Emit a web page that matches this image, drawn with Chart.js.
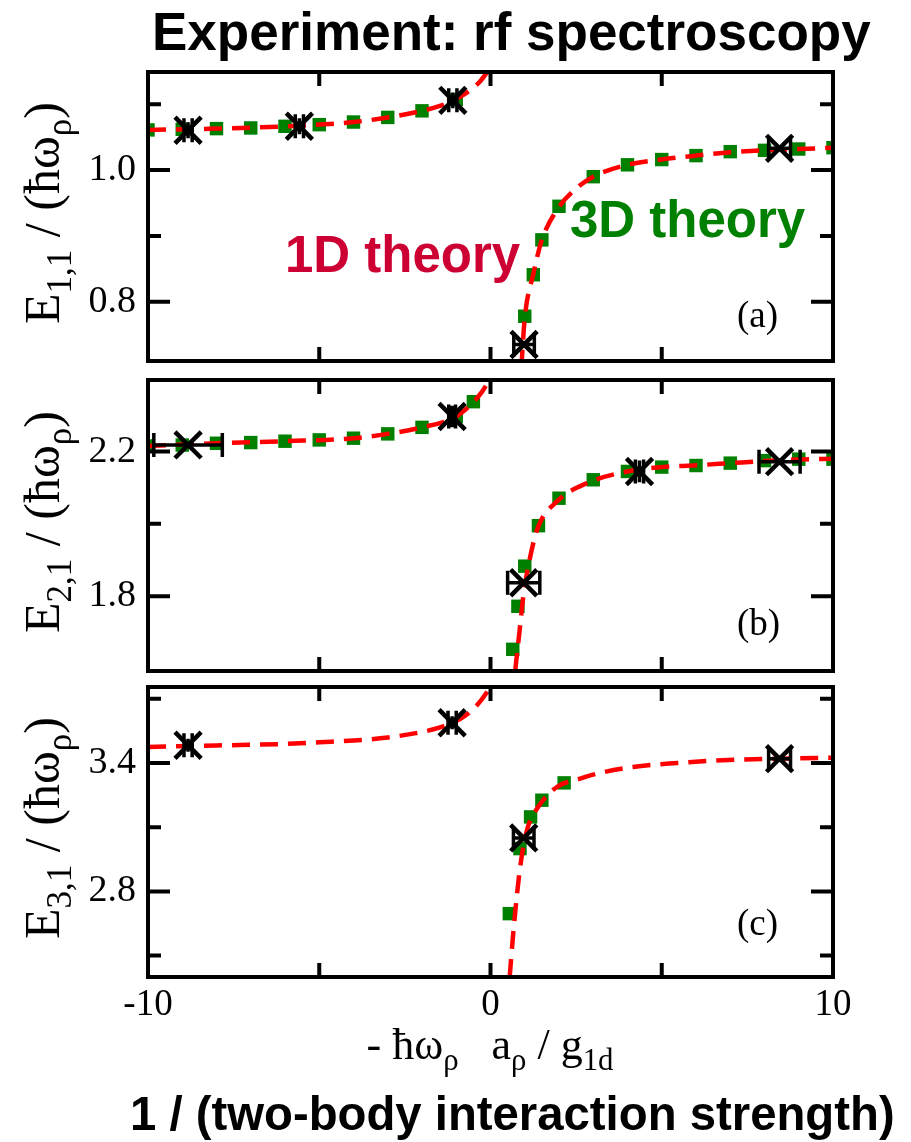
<!DOCTYPE html>
<html>
<head>
<meta charset="utf-8">
<script src="https://cdn.jsdelivr.net/npm/chart.js@4.4.1/dist/chart.umd.min.js"></script>
<style>
  body { margin: 0; background: #fff; }
  #page { position: relative; width: 911px; height: 1142px; overflow: hidden; }
  canvas { position: absolute; left: 0; top: 0; }
  .t { position: absolute; white-space: nowrap; line-height: 1; }
  .sans { font-family: "Liberation Sans", Arial, sans-serif; font-weight: bold; }
  .serif { font-family: "Liberation Serif", "Times New Roman", serif; color: #000; }
  sub { font-size: 70%; vertical-align: -0.35em; line-height: 0; }
</style>
</head>
<body>
<div id="page">
  <canvas id="chartA" width="911" height="1142"></canvas>
  <canvas id="chartB" width="911" height="1142"></canvas>
  <canvas id="chartC" width="911" height="1142"></canvas>
</div>
<script>
// shared x axis
const xTicks = [-10, -5, 0, 5, 10];
const xTickLabels = ['-10', '', '0', '', '10'];

// ---- panel (a): E_1,1
const yRangeA = [0.71, 1.149];
const yTicksA = [0.8, 0.9, 1.0, 1.1];
const yTickLabelsA = ['0.8', '', '1.0', ''];
const lineA1x = [-10, -8, -6, -4, -3, -2, -1.5, -1, -0.6, -0.3, -0.05];
const lineA1y = [1.061, 1.063, 1.0665, 1.073, 1.080, 1.090, 1.097, 1.108, 1.121, 1.135, 1.152];
const lineA2x = [0.9, 1.0, 1.25, 1.5, 2, 2.5, 3, 4, 5, 6, 7, 8, 9, 10];
const lineA2y = [0.70, 0.775, 0.842, 0.894, 0.944, 0.972, 0.99, 1.008, 1.016, 1.022, 1.027, 1.030, 1.032, 1.034];
const sqAx = [-10, -9, -8, -7, -6, -5, -4, -3, -2, -1, 1, 1.25, 1.5, 2, 3, 4, 5, 6, 7, 8, 9, 10];
const sqAy = [1.061, 1.062, 1.063, 1.064, 1.0665, 1.069, 1.073, 1.080, 1.090, 1.107,
              0.778, 0.841, 0.894, 0.945, 0.990, 1.008, 1.016, 1.022, 1.028, 1.030, 1.032, 1.034];
const expAx = [-8.83, -5.58, -1.10, 0.98, 8.44];
const expAy = [1.0605, 1.0666, 1.106, 0.735, 1.033];
const expAxErr = [0.12, 0.12, 0.12, 0.3, 0.32];
const expAyErr = [0.012, 0.012, 0.012, 0.004, 0.004];

// ---- panel (b): E_2,1
const yRangeB = [1.593, 2.398];
const yTicksB = [1.8, 2.0, 2.2];
const yTickLabelsB = ['1.8', '', '2.2'];
const lineB1x = [-10, -8, -6, -4, -3, -2, -1, -0.5, -0.25, -0.02];
const lineB1y = [2.2155, 2.223, 2.2287, 2.237, 2.249, 2.267, 2.297, 2.337, 2.365, 2.40];
const lineB2x = [0.72, 0.875, 0.97, 1.14, 1.38, 1.94, 2.82, 4, 5, 6, 7, 8, 9, 10];
const lineB2y = [1.593, 1.727, 1.809, 1.90, 1.989, 2.062, 2.113, 2.145, 2.157, 2.162, 2.168, 2.174, 2.178, 2.18];
const sqBx = [-10, -9, -8, -7, -6, -5, -4, -3, -2, -1, -0.5,
              0.65, 0.8, 1.0, 1.4, 2, 3, 4, 5, 6, 7, 8, 9, 10];
const sqBy = [2.2157, 2.218, 2.223, 2.2249, 2.2287, 2.2323, 2.237, 2.249, 2.267, 2.297, 2.338,
              1.653, 1.772, 1.883, 1.995, 2.071, 2.122, 2.145, 2.157, 2.1614, 2.168, 2.175, 2.179, 2.179];
const expBx = [-8.83, -1.12, 0.97, 4.35, 8.44];
const expBy = [2.2185, 2.297, 1.837, 2.145, 2.172];
const expBxErr = [1.0, 0.1, 0.47, 0.12, 0.6];
const expByErr = [0.004, 0.03, 0.004, 0.03, 0.004];

// ---- panel (c): E_3,1
const yRangeC = [2.40, 3.755];
const yTicksC = [2.5, 2.8, 3.1, 3.4, 3.7];
const yTickLabelsC = ['', '2.8', '', '3.4', ''];
const lineC1x = [-10, -8, -6, -5, -4, -3, -2, -1.5, -1.1, -0.87, -0.44, -0.1, 0.0];
const lineC1y = [3.475, 3.482, 3.489, 3.497, 3.505, 3.519, 3.545, 3.565, 3.59, 3.607, 3.662, 3.732, 3.76];
const lineC2x = [0.56, 0.64, 0.72, 0.83, 0.94, 1.09, 1.36, 1.94, 2.62, 3.11, 4.16, 5.45, 6.75, 8.44, 10];
const lineC2y = [2.40, 2.56, 2.70, 2.867, 2.992, 3.10, 3.187, 3.288, 3.327, 3.35, 3.381, 3.40, 3.413, 3.42, 3.425];
const sqCx = [0.55, 0.86, 1.17, 1.5, 2.15];
const sqCy = [2.696, 3.0, 3.148, 3.226, 3.307];
const expCx = [-8.83, -1.12, 0.97, 8.44];
const expCy = [3.483, 3.588, 3.05, 3.42];
const expCxErr = [0.12, 0.12, 0.3, 0.32];
const expCyErr = [0.03, 0.03, 0.007, 0.007];

const zip = (xs, ys) => xs.map((x, i) => ({ x, y: ys[i] }));

// frame + inward ticks on all four sides
const framePlugin = {
    id: 'frame',
    afterDraw(chart, args, opts) {
        const { ctx, chartArea: a, scales: { x, y } } = chart;
        ctx.save();
        ctx.strokeStyle = '#000';
        ctx.lineWidth = 4;
        ctx.beginPath();
        xTicks.forEach(v => {
            const px = x.getPixelForValue(v);
            ctx.moveTo(px, a.top); ctx.lineTo(px, a.top + 14);
            ctx.moveTo(px, a.bottom); ctx.lineTo(px, a.bottom - 14);
        });
        opts.ticks.forEach((v, i) => {
            const py = y.getPixelForValue(v);
            const len = opts.labels[i] ? 22 : 13;
            ctx.moveTo(a.left, py); ctx.lineTo(a.left + len, py);
            ctx.moveTo(a.right, py); ctx.lineTo(a.right - len, py);
        });
        ctx.stroke();
        ctx.strokeRect(a.left, a.top, a.right - a.left, a.bottom - a.top);
        ctx.restore();
    }
};

// horizontal / vertical error bars of the experimental points
const errorBarPlugin = {
    id: 'errorBars',
    afterDatasetsDraw(chart, args, opts) {
        const { ctx, scales: { x, y } } = chart;
        ctx.save();
        ctx.strokeStyle = '#000';
        ctx.lineWidth = 3.5;
        ctx.beginPath();
        opts.xs.forEach((xv, i) => {
            const px = x.getPixelForValue(xv);
            const py = y.getPixelForValue(opts.ys[i]);
            const x0 = x.getPixelForValue(xv - opts.xErr[i]);
            const x1 = x.getPixelForValue(xv + opts.xErr[i]);
            const y0 = y.getPixelForValue(opts.ys[i] - opts.yErr[i]);
            const y1 = y.getPixelForValue(opts.ys[i] + opts.yErr[i]);
            ctx.moveTo(x0, py); ctx.lineTo(x1, py);
            ctx.moveTo(x0, py - 12); ctx.lineTo(x0, py + 12);
            ctx.moveTo(x1, py - 12); ctx.lineTo(x1, py + 12);
            ctx.moveTo(px, y0); ctx.lineTo(px, y1);
        });
        ctx.stroke();
        ctx.restore();
    }
};

function makePanel(id, p) {
    const lineStyle = {
        type: 'line', borderColor: '#ff0000', borderWidth: 4.5, borderDash: [18, 10],
        pointRadius: 0, cubicInterpolationMode: 'monotone', fill: false, order: 2, clip: 0
    };
    new Chart(document.getElementById(id), {
        type: 'scatter',
        data: {
            datasets: [
                { label: '3D theory', data: zip(p.sqX, p.sqY), pointStyle: 'rect', pointRadius: 9.5,
                  backgroundColor: '#008000', borderWidth: 0, order: 3, clip: 0 },
                { ...lineStyle, label: '1D theory', data: zip(p.l1x, p.l1y) },
                { ...lineStyle, label: '1D theory b', data: zip(p.l2x, p.l2y) },
                { label: 'experiment', data: zip(p.ex, p.ey), pointStyle: 'crossRot', pointRadius: 18.5,
                  borderColor: '#000', borderWidth: 4.5, order: 1 }
            ]
        },
        options: {
            responsive: false,
            animation: false,
            events: [],
            layout: { padding: { left: 0, right: 78, top: p.top, bottom: p.bottom } },
            plugins: {
                legend: { display: false },
                tooltip: { enabled: false },
                frame: { ticks: p.yTicks, labels: p.yLabels },
                errorBars: { xs: p.ex, ys: p.ey, xErr: p.exErr, yErr: p.eyErr }
            },
            scales: {
                x: {
                    type: 'linear', min: -10, max: 10,
                    display: p.showX,
                    grid: { display: false, drawTicks: false },
                    border: { display: false },
                    afterBuildTicks: s => { s.ticks = xTicks.map(v => ({ value: v })); },
                    afterFit: s => { s.height = p.showX ? 60 : 0; s.paddingLeft = 0; s.paddingRight = 0; },
                    ticks: {
                        autoSkip: false, maxRotation: 0, padding: 6, color: '#000',
                        font: { family: 'Liberation Serif', size: 37 },
                        callback: (v, i) => xTickLabels[i]
                    }
                },
                y: {
                    type: 'linear', min: p.yRange[0], max: p.yRange[1],
                    grid: { display: false, drawTicks: false },
                    border: { display: false },
                    afterBuildTicks: s => { s.ticks = p.yTicks.map(v => ({ value: v })); },
                    afterFit: s => { s.width = 148; s.paddingTop = 0; s.paddingBottom = 0; },
                    ticks: {
                        autoSkip: false, padding: 12, color: '#000',
                        font: { family: 'Liberation Serif', size: 38 },
                        callback: (v, i) => p.yLabels[i]
                    }
                }
            }
        },
        plugins: [framePlugin, errorBarPlugin]
    });
}

makePanel('chartA', {
    top: 72, bottom: 1142 - 361, showX: false, yRange: yRangeA, yTicks: yTicksA, yLabels: yTickLabelsA,
    l1x: lineA1x, l1y: lineA1y, l2x: lineA2x, l2y: lineA2y, sqX: sqAx, sqY: sqAy,
    ex: expAx, ey: expAy, exErr: expAxErr, eyErr: expAyErr
});
makePanel('chartB', {
    top: 380, bottom: 1142 - 671, showX: false, yRange: yRangeB, yTicks: yTicksB, yLabels: yTickLabelsB,
    l1x: lineB1x, l1y: lineB1y, l2x: lineB2x, l2y: lineB2y, sqX: sqBx, sqY: sqBy,
    ex: expBx, ey: expBy, exErr: expBxErr, eyErr: expByErr
});
makePanel('chartC', {
    top: 687, bottom: 1142 - 977 - 60, showX: true, yRange: yRangeC, yTicks: yTicksC, yLabels: yTickLabelsC,
    l1x: lineC1x, l1y: lineC1y, l2x: lineC2x, l2y: lineC2y, sqX: sqCx, sqY: sqCy,
    ex: expCx, ey: expCy, exErr: expCxErr, eyErr: expCyErr
});

// ---- text overlays (positioned by baseline)
const page = document.getElementById('page');
function put(html, cls, size, x, base, opts = {}) {
    const el = document.createElement('div');
    el.className = 't ' + cls;
    el.innerHTML = html;
    el.style.fontSize = size + 'px';
    const k = cls === 'sans' ? 0.8465 : 0.8375;
    el.style.left = x + 'px';
    el.style.top = (base - k * size) + 'px';
    if (opts.color) el.style.color = opts.color;
    if (opts.center) el.style.transform = 'translateX(-50%)';
    page.appendChild(el);
    return el;
}
function putRot(html, size, cx, cy) {
    const el = document.createElement('div');
    el.className = 't serif';
    el.innerHTML = html;
    el.style.fontSize = size + 'px';
    el.style.left = cx + 'px';
    el.style.top = cy + 'px';
    el.style.transform = 'translate(-50%, -50%) rotate(-90deg)';
    page.appendChild(el);
}

put('Experiment: rf spectroscopy', 'sans', 53, 152, 50);
put('1 / (two-body interaction strength)', 'sans', 47.3, 130, 1130);
put('1D theory', 'sans', 51, 285, 272, { color: '#cc0033' });
put('3D theory', 'sans', 51, 570, 237, { color: '#008000' });
put('(a)', 'serif', 37, 737, 327);
put('(b)', 'serif', 37, 737, 635);
put('(c)', 'serif', 37, 737, 935);
put('- &#295;&omega;<sub>&rho;</sub>&nbsp;&nbsp;&nbsp;a<sub>&rho;</sub> / g<sub>1d</sub>', 'serif', 44, 490, 1060, { center: true });
putRot('E<sub>1,1</sub>&nbsp;/ (&#295;&omega;<sub>&rho;</sub>)', 50, 42, 213);
putRot('E<sub>2,1</sub>&nbsp;/ (&#295;&omega;<sub>&rho;</sub>)', 50, 42, 522);
putRot('E<sub>3,1</sub>&nbsp;/ (&#295;&omega;<sub>&rho;</sub>)', 50, 42, 828);
</script>
</body>
</html>
